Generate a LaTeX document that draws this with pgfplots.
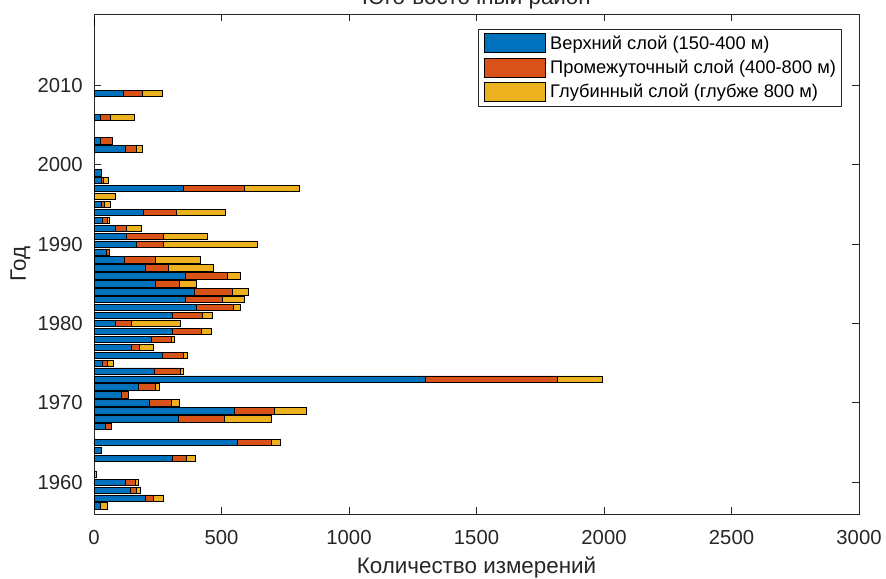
\documentclass[border=0pt]{standalone}
\usepackage{pgfplots}
\pgfplotsset{compat=1.18}
\usepackage{pgfplotstable}
\usepackage{fontspec}
\setmainfont{Liberation Sans}
\definecolor{mblue}{rgb}{0,0.447,0.741}
\definecolor{mred}{rgb}{0.85,0.325,0.098}
\definecolor{myel}{rgb}{0.929,0.694,0.125}
\definecolor{axgray}{rgb}{0.15,0.15,0.15}

\pgfplotstableread{
year up mid deep
1957 26 0 25
1958 202 32 40
1959 143 24 14
1960 125 38 13
1961 0 0 8
1963 306 58 34
1964 29 0 0
1965 562 132 36
1967 46 22 0
1968 331 182 183
1969 552 154 125
1970 219 83 33
1971 109 24 0
1972 176 63 18
1973 1300 518 174
1974 235 102 13
1975 33 19 24
1976 268 82 17
1977 148 29 57
1978 226 76 14
1979 306 117 38
1980 84 64 192
1981 306 121 38
1982 403 143 29
1983 360 144 85
1984 394 148 63
1985 239 96 68
1986 360 162 54
1987 202 89 179
1988 118 121 178
1989 49 13 0
1990 168 105 366
1991 129 144 172
1992 85 44 57
1993 33 19 8
1994 192 133 192
1995 29 13 24
1996 0 0 85
1997 350 241 215
1998 29 9 18
1999 30 0 0
2002 123 45 22
2003 24 47 0
2006 26 40 93
2009 114 74 81
2018 2 0 0
}\data

\pgfplotsset{
  mylegend/.style={legend image code/.code={\draw[##1, draw=black, line width=0.6pt] (0pt,-7.1pt) rectangle (45.75pt,7.1pt);}},
}

\begin{document}
\begin{tikzpicture}
\begin{axis}[
  name=ax,
  scale only axis, width=573.75pt, height=375pt,
  xbar stacked, bar width=0.8,
  xmin=0, xmax=3000, ymin=1956, ymax=2019,
  xtick={0,500,...,3000}, ytick={1960,1970,...,2010},
  minor tick num=0,
  tick align=inside, tick pos=both, major tick length=5.25pt,
  /pgf/number format/1000 sep={},
  /pgf/number format/assume math mode=true,
  ticklabel style={font=\fontsize{15.2}{18}\selectfont, text=axgray},
  xticklabel style={inner sep=0pt, anchor=north, yshift=-12pt},
  yticklabel style={inner sep=0pt, anchor=east, xshift=-8.25pt},
  axis line style={draw=axgray, line width=0.6pt},
  every tick/.style={draw=axgray, line width=0.6pt},
  xlabel={Количество измерений}, ylabel={Год},
  title={Юго-восточный район},
  every axis x label/.style={at={(axis description cs:0.5,-0.118)}, anchor=base, font=\fontsize{16.8}{20}\selectfont, text=axgray},
  every axis y label/.style={at={(axis description cs:-0.0889,0.5)}, rotate=90, anchor=base, font=\fontsize{16.8}{20}\selectfont, text=axgray},
  every axis title/.style={at={(axis description cs:0.5,1.018)}, anchor=base, font=\fontsize{16.8}{20}\selectfont, text=axgray},
  legend cell align=left,
  legend style={at={(0.9778,0.97)}, anchor=north east, draw=axgray, line width=0.6pt, fill=white,
    font=\fontsize{13.7}{16}\selectfont, inner xsep=3.75pt, inner ysep=3pt, row sep=3.5pt,
    nodes={inner sep=0.5pt},
    /tikz/every odd column/.append style={column sep=3pt}},
]
\addplot[fill=mblue, draw=black, line width=0.6pt, mylegend] table[x=up, y=year]{\data};
\addplot[fill=mred, draw=black, line width=0.6pt, mylegend] table[x=mid, y=year]{\data};
\addplot[fill=myel, draw=black, line width=0.6pt, mylegend] table[x=deep, y=year]{\data};
\addlegendentry{Верхний слой (150-400 м)}
\addlegendentry{Промежуточный слой (400-800 м)}
\addlegendentry{Глубинный слой (глубже 800 м)}
\end{axis}
\pgfresetboundingbox
\path[use as bounding box] ([xshift=-70.5pt,yshift=-48pt]ax.south west) rectangle ([xshift=20.25pt,yshift=10.5pt]ax.north east);
\end{tikzpicture}
\end{document}
